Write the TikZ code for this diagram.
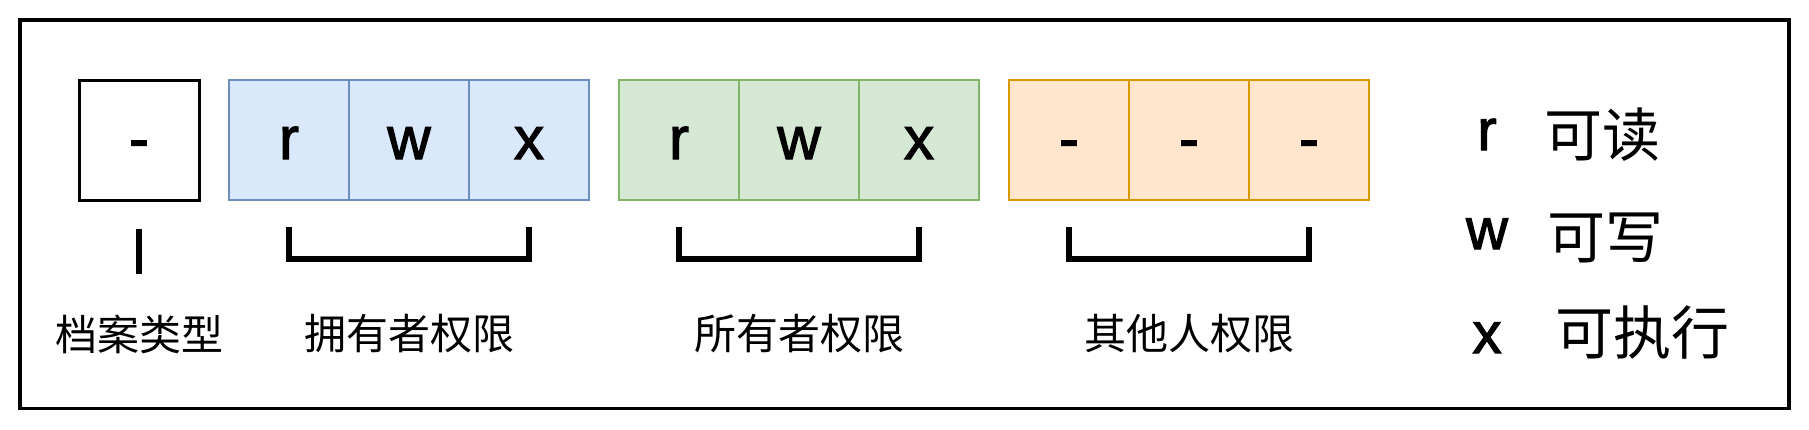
\documentclass[tikz,border=0pt]{standalone}
\usepackage{fontspec}
\setmainfont{Liberation Sans}
\newfontfamily\cjk{Noto Sans CJK SC}
\newfontfamily\latinb{Liberation Sans}[FakeBold=2]
\definecolor{bluefill}{HTML}{DAE8FC}
\definecolor{blueline}{HTML}{6C8EBF}
\definecolor{greenfill}{HTML}{D5E8D4}
\definecolor{greenline}{HTML}{82B366}
\definecolor{orangefill}{HTML}{FFE6CC}
\definecolor{orangeline}{HTML}{D79B00}
\tikzset{
  cell/.style={draw, line width=2.5pt, minimum width=120pt, minimum height=120pt,
    inner sep=0pt, outer sep=0pt, text height=38pt, text depth=0pt,
    font=\fontsize{60}{72}\selectfont\latinb},
  bluecell/.style={cell, fill=bluefill, draw=blueline},
  greencell/.style={cell, fill=greenfill, draw=greenline},
  orangecell/.style={cell, fill=orangefill, draw=orangeline},
  typecell/.style={cell, draw=black, line width=3pt, fill=white},
  lab/.style={inner sep=0pt, font=\fontsize{42}{50}\selectfont\cjk},
  legl/.style={inner sep=0pt, anchor=base, font=\fontsize{58}{70}\selectfont\latinb},
  legc/.style={inner sep=0pt, anchor=west, font=\fontsize{58}{70}\selectfont\cjk},
  brk/.style={draw=black, line width=6pt, line join=miter}
}
\begin{document}
\begin{tikzpicture}[x=1pt,y=-1pt]
\useasboundingbox (0,0) rectangle (1809,429);
\draw[line width=3.6pt] (20,20) rectangle (1789,408.5);

\node[typecell] (t0) at (139,140) {-};

\node[bluecell] (b1) at (289,140) {r};
\node[bluecell] (b2) at (409,140) {w};
\node[bluecell] (b3) at (529,140) {x};

\node[greencell] (g1) at (679,140) {r};
\node[greencell] (g2) at (799,140) {w};
\node[greencell] (g3) at (919,140) {x};

\node[orangecell] (o1) at (1069,140) {-};
\node[orangecell] (o2) at (1189,140) {-};
\node[orangecell] (o3) at (1309,140) {-};

\draw[brk] ([yshift=-29pt]t0.south) -- ([yshift=-74pt]t0.south);
\draw[brk] ([yshift=-27pt]b1.south) -- ([yshift=-59pt]b1.south) -- ([yshift=-59pt]b3.south) -- ([yshift=-27pt]b3.south);
\draw[brk] ([yshift=-27pt]g1.south) -- ([yshift=-59pt]g1.south) -- ([yshift=-59pt]g3.south) -- ([yshift=-27pt]g3.south);
\draw[brk] ([yshift=-27pt]o1.south) -- ([yshift=-59pt]o1.south) -- ([yshift=-59pt]o3.south) -- ([yshift=-27pt]o3.south);

\node[lab] (l0) at (139,334) {档案类型};
\node[lab] (l1) at (409,334) {拥有者权限};
\node[lab] (l2) at (799,334) {所有者权限};
\node[lab] (l3) at (1189,334) {其他人权限};

\node[legl] (kr) at (1487,150) {r};
\node[legl] (kw) at (1487,249) {w};
\node[legl] (kx) at (1487,353) {x};
\node[legc] (vr) at (1544,134.5) {可读};
\node[legc] (vw) at (1547,237.5) {可写};
\node[legc] (vx) at (1555,332.5) {可执行};
\end{tikzpicture}
\end{document}
